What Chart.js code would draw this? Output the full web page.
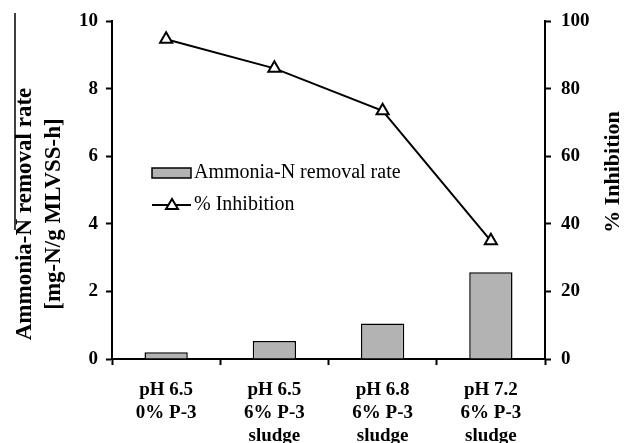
<!DOCTYPE html>
<html>
<head>
<meta charset="utf-8">
<script src="https://cdn.jsdelivr.net/npm/chart.js@4"></script>
<style>
  body { margin: 0; background: #fff; }
  #wrap { width: 626px; height: 443px; }
</style>
</head>
<body>
<div id="wrap"><canvas id="chart" width="626" height="443"></canvas></div>
<script>
const categories = [
    ['pH 6.5', '0% P-3'],
    ['pH 6.5', '6% P-3', 'sludge'],
    ['pH 6.8', '6% P-3', 'sludge'],
    ['pH 7.2', '6% P-3', 'sludge']
];
const removalRate = [0.2, 0.53, 1.05, 2.57];
const inhibition = [94.7, 86.1, 73.5, 35];
const leftTicks = [0, 2, 4, 6, 8, 10];
const rightTicks = [0, 20, 40, 60, 80, 100];
const leftTitle = ['Ammonia-N removal rate', '[mg-N/g MLVSS-h]'];
const rightTitle = '% Inhibition';

const serif = "'Liberation Serif', 'Times New Roman', serif";

// legend and axis titles drawn by hand, like the original
const extras = {
    id: 'extras',
    afterDraw(chart) {
        const ctx = chart.ctx;
        ctx.save();

        // legend
        ctx.font = '20px ' + serif;
        ctx.textBaseline = 'middle';
        ctx.textAlign = 'left';
        ctx.fillStyle = '#b3b3b3';
        ctx.fillRect(152, 168, 39, 10);
        ctx.strokeStyle = '#000';
        ctx.lineWidth = 1.5;
        ctx.strokeRect(152, 168, 39, 10);
        ctx.fillStyle = '#000';
        ctx.fillText('Ammonia-N removal rate', 194, 173);

        ctx.lineWidth = 2;
        ctx.beginPath();
        ctx.moveTo(152, 205);
        ctx.lineTo(191, 205);
        ctx.stroke();
        ctx.beginPath();
        ctx.moveTo(172, 199);
        ctx.lineTo(178, 209);
        ctx.lineTo(166, 209);
        ctx.closePath();
        ctx.fillStyle = '#fff';
        ctx.fill();
        ctx.stroke();
        ctx.fillStyle = '#000';
        ctx.fillText('% Inhibition', 194, 205);

        // axis titles, both read bottom to top
        ctx.font = 'bold 23px ' + serif;
        ctx.textAlign = 'center';
        ctx.save();
        ctx.translate(25, 214);
        ctx.rotate(-Math.PI / 2);
        ctx.fillText(leftTitle[0], 0, 0);
        ctx.fillText(leftTitle[1], 0, 29);
        ctx.restore();

        ctx.font = 'bold 22px ' + serif;
        ctx.save();
        ctx.translate(613, 172);
        ctx.rotate(-Math.PI / 2);
        ctx.fillText(rightTitle, 0, 0);
        ctx.restore();

        // stray rule over the left title in the scan
        ctx.lineWidth = 1.5;
        ctx.beginPath();
        ctx.moveTo(15, 13);
        ctx.lineTo(15, 230);
        ctx.stroke();

        ctx.restore();
    }
};

document.addEventListener('DOMContentLoaded', function () {
    const ctx = document.getElementById('chart').getContext('2d');
    new Chart(ctx, {
        type: 'bar',
        data: {
            labels: categories,
            datasets: [{
                type: 'line',
                label: '% Inhibition',
                data: inhibition,
                yAxisID: 'y1',
                borderColor: '#000',
                borderWidth: 2,
                pointStyle: 'triangle',
                pointRadius: 7,
                pointBorderWidth: 2,
                pointBackgroundColor: '#fff',
                pointBorderColor: '#000',
                tension: 0,
                order: 0
            }, {
                label: 'Ammonia-N removal rate',
                data: removalRate,
                yAxisID: 'y',
                backgroundColor: '#b3b3b3',
                borderColor: '#000',
                borderWidth: 1.5,
                barPercentage: 0.4,
                categoryPercentage: 1,
                order: 1
            }]
        },
        options: {
            responsive: false,
            animation: false,
            layout: { padding: { top: 21, left: 0, right: 0, bottom: 0 } },
            plugins: {
                legend: { display: false },
                tooltip: { enabled: false }
            },
            scales: {
                x: {
                    afterFit(s) { s.height = 84; },
                    grid: { drawOnChartArea: false, drawTicks: true, tickLength: 6, tickColor: '#000', tickWidth: 2 },
                    border: { display: true, color: '#000', width: 2 },
                    ticks: {
                        color: '#000',
                        maxRotation: 0,
                        padding: 14,
                        font: { family: serif, size: 19, weight: 'bold', lineHeight: 1.2 }
                    }
                },
                y: {
                    position: 'left',
                    min: 0, max: 10,
                    afterFit(s) { s.width = 112; },
                    afterBuildTicks(s) { s.ticks = leftTicks.map(v => ({ value: v })); },
                    grid: { drawOnChartArea: false, tickLength: 6, tickColor: '#000', tickWidth: 2 },
                    border: { display: true, color: '#000', width: 2 },
                    ticks: {
                        color: '#000',
                        padding: 8,
                        font: { family: serif, size: 19, weight: 'bold' }
                    }
                },
                y1: {
                    position: 'right',
                    min: 0, max: 100,
                    afterFit(s) { s.width = 81; },
                    afterBuildTicks(s) { s.ticks = rightTicks.map(v => ({ value: v })); },
                    grid: { drawOnChartArea: false, tickLength: 6, tickColor: '#000', tickWidth: 2 },
                    border: { display: true, color: '#000', width: 2 },
                    ticks: {
                        color: '#000',
                        padding: 10,
                        font: { family: serif, size: 19, weight: 'bold' }
                    }
                }
            }
        },
        plugins: [extras]
    });
});
</script>
</body>
</html>
